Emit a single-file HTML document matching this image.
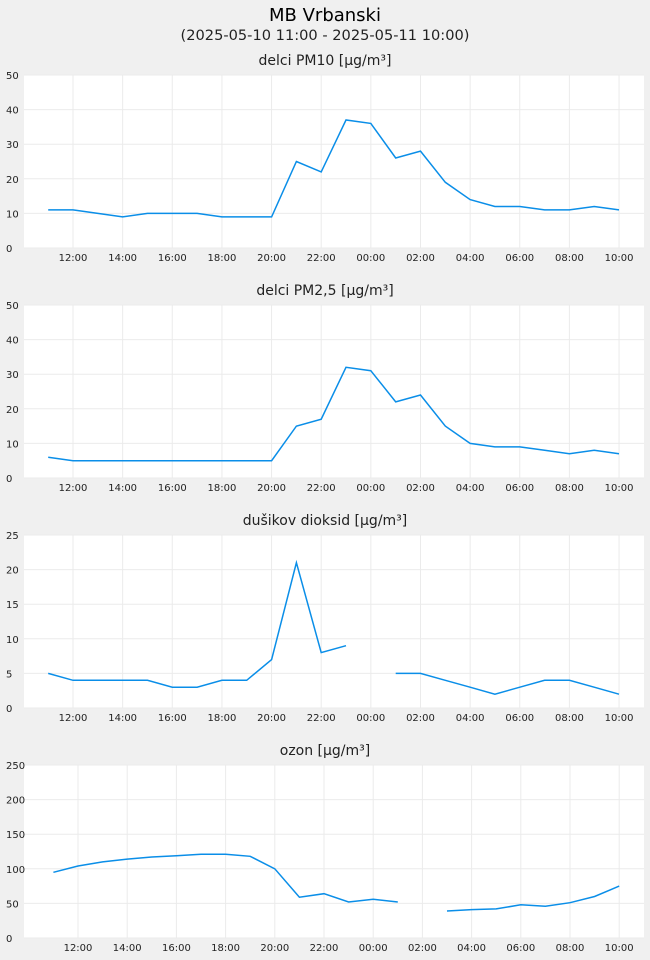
<!DOCTYPE html>
<html><head><meta charset="utf-8">
<style>
body{margin:0;background:#f0f0f0;font-family:"DejaVu Sans","Liberation Sans",sans-serif;}
svg{display:block}
</style></head>
<body>
<svg id="chart" width="650" height="960" xmlns="http://www.w3.org/2000/svg">
<rect width="650" height="960" fill="#f0f0f0"/>
<text x="325" y="21" text-anchor="middle" font-size="18" fill="#000">MB Vrbanski</text>
<text x="325" y="40" text-anchor="middle" font-size="14.6" fill="#222">(2025-05-10 11:00 - 2025-05-11 10:00)</text>
</svg>
<script>
const hours = [11,12,13,14,15,16,17,18,19,20,21,22,23,24,25,26,27,28,29,30,31,32,33,34];
const tickLabels = ["12:00","14:00","16:00","18:00","20:00","22:00","00:00","02:00","04:00","06:00","08:00","10:00"];
const tickHours = [12,14,16,18,20,22,24,26,28,30,32,34];
const pm10 = [11,11,10,9,10,10,10,9,9,9,25,22,37,36,26,28,19,14,12,12,11,11,12,11];
const pm25 = [6,5,5,5,5,5,5,5,5,5,15,17,32,31,22,24,15,10,9,9,8,7,8,7];
const no2 = [5,4,4,4,4,3,3,4,4,7,21,8,9,null,5,5,4,3,2,3,4,4,3,2];
const ozone = [95,104,110,114,117,119,121,121,118,100,59,64,52,56,52,null,39,41,42,48,46,51,60,75];
const titles = ["delci PM10 [µg/m³]","delci PM2,5 [µg/m³]","dušikov dioksid [µg/m³]","ozon [µg/m³]"];
const yTicks = [[0,10,20,30,40,50],[0,10,20,30,40,50],[0,5,10,15,20,25],[0,50,100,150,200,250]];
const series = [pm10,pm25,no2,ozone];
const names = ["pm10","pm25","no2","ozone"];

const svg = document.getElementById('chart');
const NS = "http://www.w3.org/2000/svg";
function mk(tag, attrs){const e=document.createElementNS(NS,tag);for(const k in attrs)e.setAttribute(k,attrs[k]);return e;}
const L=24,R=644,H=173;
const tops=[75,305,535,765];
const xCfg=[[73,24.82],[73,24.82],[73,24.82],[78,24.6]];
for(let p=0;p<4;p++){
  const top=tops[p], bot=top+H;
  const ymax=yTicks[p][yTicks[p].length-1];
  const y=v=>bot-(v/ymax)*H;
  const x=t=>xCfg[p][0]+xCfg[p][1]*(t-12);
  const g=mk('g',{});
  
  
  svg.appendChild(g);
  const tt=mk('text',{x:325,y:top-10,'text-anchor':'middle','font-size':14,fill:'#222'});
  
  
  tt.textContent=titles[p]; g.appendChild(tt);
  const bg=mk('rect',{x:L,y:top,width:R-L,height:H,fill:'#fff'});
  
  
  g.appendChild(bg);
  yTicks[p].forEach(v=>{
    const gl=mk('line',{x1:L,x2:R,y1:y(v),y2:y(v),stroke:'#ebebeb','stroke-width':1});
    
    
    g.appendChild(gl);
    const tl=mk('text',{x:6,y:y(v)+4,'font-size':10,fill:'#222'});
    
    
    tl.textContent=v; g.appendChild(tl);
  });
  tickHours.forEach((h,i)=>{
    const gl=mk('line',{x1:x(h),x2:x(h),y1:top,y2:bot,stroke:'#ebebeb','stroke-width':1});
    
    
    g.appendChild(gl);
    const tl=mk('text',{x:x(h),y:bot+13,'text-anchor':'middle','font-size':10,fill:'#222'});
    
    
    tl.textContent=tickLabels[i]; g.appendChild(tl);
  });
  let d='', pen=false;
  series[p].forEach((v,i)=>{
    if(v===null){pen=false;return;}
    d+=(pen?'L':'M')+x(hours[i]).toFixed(1)+','+y(v).toFixed(1);
    pen=true;
  });
  const path=mk('path',{d:d,fill:'none',stroke:'#0a8ee8','stroke-width':1.5});
  
  
  g.appendChild(path);
}
</script>
</body></html>
